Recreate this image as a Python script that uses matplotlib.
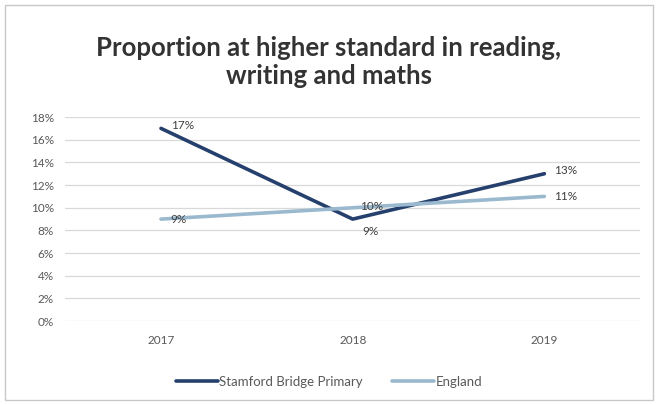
import matplotlib.pyplot as plt
from matplotlib.patches import Rectangle
from matplotlib.ticker import FuncFormatter

plt.rcParams['font.family'] = ['Lato', 'DejaVu Sans']

# Data
years = ['2017', '2018', '2019']
stamford = [17, 9, 13]
england = [9, 10, 11]

fig = plt.figure(figsize=(6.58, 4.05), dpi=100)
ax = fig.add_axes([0.099, 0.207, 0.874, 0.504])

x = range(len(years))
ax.plot(x, stamford, color='#26406e', lw=2.6, label='Stamford Bridge Primary', solid_capstyle='round')
ax.plot(x, england, color='#9ab9cf', lw=2.6, label='England', solid_capstyle='round')

# Data labels
for i, v in enumerate(stamford):
    dy = -9 if i == 1 else 2
    ax.annotate(f'{v}%', (i, v), xytext=(7, dy), textcoords='offset points',
                ha='left', va='center', fontsize=8.5, color='#404040')
for i, v in enumerate(england):
    if i == 1:
        ax.annotate(f'{v}%', (i, v), xytext=(5, 1), textcoords='offset points',
                    ha='left', va='center', fontsize=8.5, color='#404040')
    else:
        ax.annotate(f'{v}%', (i, v), xytext=(7, 0), textcoords='offset points',
                    ha='left', va='center', fontsize=8.5, color='#404040')

ax.set_xlim(-0.5, 2.5)
ax.set_ylim(0, 18)
ax.set_yticks(range(0, 19, 2))
ax.yaxis.set_major_formatter(FuncFormatter(lambda v, _: f'{v:.0f}%'))
ax.set_xticks(list(x))
ax.set_xticklabels(years)
ax.tick_params(length=0, labelsize=8.5, colors='#595959')
ax.tick_params(axis='x', pad=10)
ax.tick_params(axis='y', pad=8)
ax.grid(axis='y', color='#d9d9d9', lw=0.9)
ax.set_axisbelow(True)
for s in ax.spines.values():
    s.set_visible(False)

fig.text(0.5, 0.847, 'Proportion at higher standard in reading,\nwriting and maths',
         ha='center', va='center', fontsize=18.5, fontweight='bold', color='#333333',
         linespacing=1.2)

fig.legend(loc='center', bbox_to_anchor=(0.5, 0.057), ncol=2, frameon=False,
           fontsize=9.5, handlelength=3.2, handletextpad=0.1, columnspacing=2.2,
           labelcolor='#595959')

# Chart area border
fig.patches.append(Rectangle((0.008, 0.012), 0.984, 0.976, transform=fig.transFigure,
                             fill=False, edgecolor='#c8c8c8', lw=1))

fig.savefig('out.png', dpi=100)
